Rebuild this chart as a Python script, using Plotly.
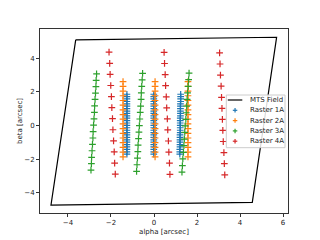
import plotly.graph_objects as go

# MTS field outline (closed parallelogram corners)
field_x = [-3.64, 5.70, 4.57, -4.79, -3.64]
field_y = [5.09, 5.25, -4.57, -4.73, 5.09]

# Raster 1A (blue) - three dense columns, 26 points each
r1_y_col = [1.86, 1.72, 1.58, 1.43, 1.29, 1.15, 1.01, 0.86, 0.72, 0.58, 0.44, 0.29, 0.15,
            0.01, -0.13, -0.28, -0.42, -0.56, -0.70, -0.85, -0.99, -1.13, -1.27, -1.42, -1.56, -1.70]
r1_x_c1 = [-1.26] * 26
r1_x_c2 = [-0.01] * 26
r1_x_c3 = [1.24, 1.24, 1.24, 1.24, 1.23, 1.23, 1.23, 1.23, 1.23, 1.23, 1.22, 1.22, 1.22,
           1.22, 1.22, 1.22, 1.22, 1.21, 1.21, 1.21, 1.21, 1.21, 1.21, 1.20, 1.20, 1.20]

# Raster 2A (orange) - three columns, 17 points each
r2_y_col = [2.61, 2.33, 2.05, 1.77, 1.49, 1.21, 0.93, 0.65, 0.38, 0.10, -0.18, -0.46,
            -0.74, -1.02, -1.30, -1.58, -1.86]
r2_x_c1 = [-1.44] * 17
r2_x_c2 = [0.05] * 17
r2_x_c3 = [1.58] * 17

# Raster 3A (green) - three tilted columns, 16 points each
r3_x_c1 = [-2.67, -2.69, -2.70, -2.72, -2.74, -2.76, -2.77, -2.79, -2.81, -2.83, -2.84, -2.86, -2.88, -2.90, -2.91, -2.93]
r3_y_c1 = [3.07, 2.69, 2.31, 1.93, 1.55, 1.17, 0.78, 0.40, 0.02, -0.36, -0.74, -1.12, -1.50, -1.89, -2.27, -2.65]
r3_x_c2 = [-0.53, -0.55, -0.57, -0.59, -0.60, -0.62, -0.64, -0.66, -0.68, -0.70, -0.72, -0.74, -0.75, -0.77, -0.79, -0.81]
r3_y_c2 = [3.10, 2.71, 2.33, 1.94, 1.55, 1.16, 0.78, 0.39, 0.00, -0.39, -0.78, -1.16, -1.55, -1.94, -2.33, -2.72]
r3_x_c3 = [1.63, 1.61, 1.59, 1.56, 1.54, 1.52, 1.50, 1.48, 1.45, 1.43, 1.41, 1.39, 1.37, 1.34, 1.32, 1.30]
r3_y_c3 = [3.12, 2.73, 2.33, 1.94, 1.55, 1.16, 0.76, 0.37, -0.02, -0.41, -0.81, -1.20, -1.59, -1.98, -2.38, -2.77]

# Raster 4A (red) - three tilted sparse columns, 12 points each
r4_x_c1 = [-2.09, -2.06, -2.04, -2.01, -1.98, -1.96, -1.93, -1.91, -1.88, -1.85, -1.83, -1.80]
r4_y_c1 = [4.36, 3.70, 3.04, 2.38, 1.72, 1.06, 0.41, -0.25, -0.91, -1.57, -2.23, -2.89]
r4_x_c2 = [0.47, 0.49, 0.52, 0.54, 0.57, 0.59, 0.62, 0.64, 0.67, 0.69, 0.72, 0.74]
r4_y_c2 = [4.35, 3.69, 3.03, 2.37, 1.71, 1.05, 0.40, -0.26, -0.92, -1.58, -2.24, -2.90]
r4_x_c3 = [3.05, 3.07, 3.09, 3.12, 3.14, 3.16, 3.18, 3.20, 3.22, 3.25, 3.27, 3.29]
r4_y_c3 = [4.32, 3.66, 3.00, 2.34, 1.68, 1.02, 0.37, -0.29, -0.95, -1.61, -2.27, -2.93]

x_ticks = [-4, -2, 0, 2, 4, 6]
y_ticks = [-4, -2, 0, 2, 4]

colors = ["#1f77b4", "#ff7f0e", "#2ca02c", "#d62728"]
names = ["Raster 1A", "Raster 2A", "Raster 3A", "Raster 4A"]

series = [
    (r1_x_c1 + r1_x_c2 + r1_x_c3, r1_y_col * 3),
    (r2_x_c1 + r2_x_c2 + r2_x_c3, r2_y_col * 3),
    (r3_x_c1 + r3_x_c2 + r3_x_c3, r3_y_c1 + r3_y_c2 + r3_y_c3),
    (r4_x_c1 + r4_x_c2 + r4_x_c3, r4_y_c1 + r4_y_c2 + r4_y_c3),
]

# page body has an 8px default margin, so the figure is shrunk by that offset
OFF = 8
W, H = 320 - OFF, 240 - OFF
ML, MR, MT, MB = 40 - OFF, 32, 29 - OFF, 27
PW, PH = W - ML - MR, H - MT - MB


def px(x):
    """screen pixel x -> paper coordinate"""
    return (x - OFF - ML) / PW


def py(y):
    """screen pixel y -> paper coordinate"""
    return (H - MB - (y - OFF)) / PH


fig = go.Figure()
fig.add_trace(go.Scatter(x=field_x, y=field_y, mode="lines", name="MTS Field",
                         line=dict(color="black", width=1.2), showlegend=False))
for (xs, ys), c, n in zip(series, colors, names):
    fig.add_trace(go.Scatter(x=xs, y=ys, mode="markers", name=n, showlegend=False,
                             marker=dict(symbol="cross-thin-open", size=4.8,
                                         line=dict(color=c, width=1.2), color=c)))

axis_common = dict(showgrid=False, zeroline=False, showline=True, mirror=True,
                   linecolor="#333", linewidth=1, ticks="outside", ticklen=3,
                   tickwidth=1, tickcolor="#333", automargin=False,
                   tickfont=dict(family="DejaVu Sans", size=7, color="#222"))

# custom matplotlib-like legend (layout only)
shapes = [dict(type="rect", xref="paper", yref="paper",
               x0=px(226.3), x1=px(285), y0=py(147.7), y1=py(95),
               line=dict(color="#cccccc", width=1), fillcolor="rgba(255,255,255,0.85)",
               layer="above")]
annotations = []
legend_names = ["MTS Field"] + names
row_y = [100, 110.3, 120.6, 130.9, 141.2]
for i, (n, ry) in enumerate(zip(legend_names, row_y)):
    if i == 0:
        shapes.append(dict(type="line", xref="paper", yref="paper",
                           x0=px(227.8), x1=px(242.3), y0=py(ry), y1=py(ry),
                           line=dict(color="black", width=1.2), layer="above"))
    else:
        c = colors[i - 1]
        shapes.append(dict(type="line", xref="paper", yref="paper",
                           x0=px(232.8), x1=px(237.3), y0=py(ry), y1=py(ry),
                           line=dict(color=c, width=1.2), layer="above"))
        shapes.append(dict(type="line", xref="paper", yref="paper",
                           x0=px(235.05), x1=px(235.05), y0=py(ry - 2.25), y1=py(ry + 2.25),
                           line=dict(color=c, width=1.2), layer="above"))
    annotations.append(dict(xref="paper", yref="paper", x=px(247.5), y=py(ry),
                            xanchor="left", yanchor="middle", text=n, showarrow=False,
                            font=dict(family="DejaVu Sans", size=7, color="#222")))

fig.update_layout(
    width=W, height=H,
    margin=dict(l=ML, r=MR, t=MT, b=MB),
    paper_bgcolor="white", plot_bgcolor="white",
    font=dict(family="DejaVu Sans", size=7, color="#222"),
    xaxis=dict(range=[-5.3, 6.23], tickvals=x_ticks,
               title=dict(text="alpha [arcsec]", standoff=2,
                          font=dict(family="DejaVu Sans", size=7, color="#222")),
               **axis_common),
    yaxis=dict(range=[-5.2, 5.74], tickvals=y_ticks,
               title=dict(text="beta [arcsec]", standoff=0,
                          font=dict(family="DejaVu Sans", size=7, color="#222")),
               **axis_common),
    shapes=shapes,
    annotations=annotations,
    showlegend=False,
)

fig.write_html("out.html")
